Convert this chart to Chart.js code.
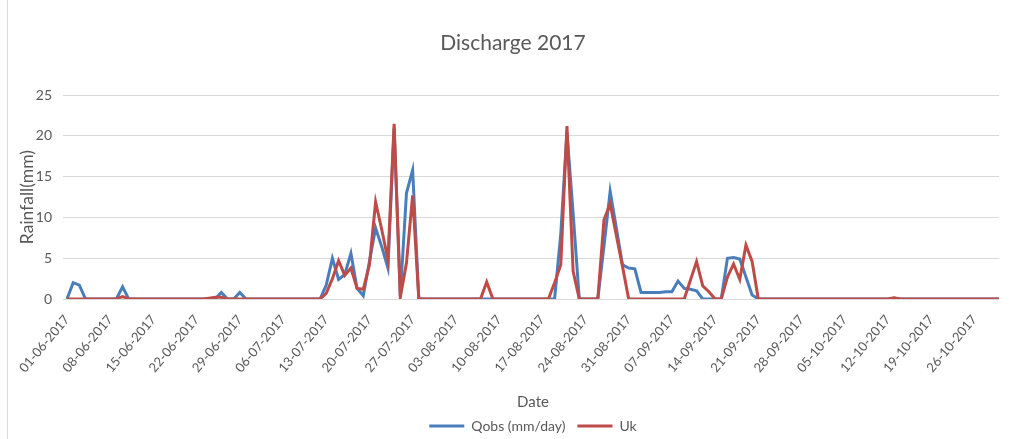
<!DOCTYPE html>
<html>
<head>
<meta charset="utf-8">
<script src="https://cdn.jsdelivr.net/npm/chart.js@4.4.1/dist/chart.umd.min.js"></script>
<style>
  html, body { margin: 0; padding: 0; background: #ffffff; }
  #wrap { position: relative; width: 1009px; height: 439px; overflow: hidden; }
  #frame { position: absolute; left: 7px; top: 0; width: 1px; height: 439px; background: #d9d9d9; }
  canvas { position: absolute; left: 0; top: 0; }
</style>
</head>
<body>
<div id="wrap">
  <div id="frame"></div>
  <canvas id="chart" width="1009" height="439"></canvas>
</div>
<script>
// Daily observed discharge (mm/day), one row per week starting 01-06-2017
const qobs = [
  0, 2.0, 1.7, 0, 0, 0, 0,
  0, 0, 1.5, 0, 0, 0, 0,
  0, 0, 0, 0, 0, 0, 0,
  0, 0, 0, 0, 0.8, 0, 0,
  0.8, 0, 0, 0, 0, 0, 0,
  0, 0, 0, 0, 0, 0, 0,
  1.7, 5.0, 2.4, 3.0, 5.6, 1.3, 0.4,
  4.6, 8.7, 6.4, 3.8, 21.0, 0.4, 13.0,
  15.8, 0, 0, 0, 0, 0, 0,
  0, 0, 0, 0, 0, 0, 0,
  0, 0, 0, 0, 0, 0, 0,
  0, 0, 0, 8.0, 20.5, 10.5, 0,
  0, 0, 0, 6.5, 13.2, 8.7, 4.2,
  3.8, 3.7, 0.8, 0.8, 0.8, 0.8, 0.9,
  0.9, 2.2, 1.3, 1.2, 1.0, 0, 0,
  0, 0, 5.0, 5.1, 4.9, 2.7, 0.5,
  0, 0, 0, 0, 0, 0, 0,
  0, 0, 0, 0, 0, 0, 0,
  0, 0, 0, 0, 0, 0, 0,
  0, 0.1, 0, 0, 0, 0, 0,
  0, 0, 0, 0, 0, 0, 0,
  0, 0, 0, 0, 0
];

// Daily simulated values (Uk), same days
const uk = [
  0, 0, 0, 0, 0, 0, 0,
  0, 0, 0.3, 0, 0, 0, 0,
  0, 0, 0, 0, 0, 0, 0,
  0, 0, 0.1, 0.2, 0.2, 0, 0,
  0, 0, 0, 0, 0, 0, 0,
  0, 0, 0, 0, 0, 0, 0,
  0.7, 2.5, 4.7, 2.9, 3.8, 1.3, 1.2,
  4.2, 11.9, 8.5, 4.8, 21.5, 0.2, 4.4,
  12.7, 0, 0, 0, 0, 0, 0,
  0, 0, 0, 0, 0, 2.1, 0,
  0, 0, 0, 0, 0, 0, 0,
  0, 0, 2.0, 4.2, 21.2, 3.4, 0,
  0, 0, 0, 9.7, 11.7, 7.8, 4.0,
  0, 0, 0, 0, 0, 0, 0,
  0, 0, 0, 2.3, 4.6, 1.6, 0.9,
  0, 0, 2.7, 4.3, 2.4, 6.6, 4.6,
  0, 0, 0, 0, 0, 0, 0,
  0, 0, 0, 0, 0, 0, 0,
  0, 0, 0, 0, 0, 0, 0,
  0, 0.15, 0, 0, 0, 0, 0,
  0, 0, 0, 0, 0, 0, 0,
  0, 0, 0, 0, 0
];

// Dates shown under the axis (weekly)
const tickLabels = [
  '01-06-2017', '08-06-2017', '15-06-2017', '22-06-2017', '29-06-2017',
  '06-07-2017', '13-07-2017', '20-07-2017', '27-07-2017', '03-08-2017',
  '10-08-2017', '17-08-2017', '24-08-2017', '31-08-2017', '07-09-2017',
  '14-09-2017', '21-09-2017', '28-09-2017', '05-10-2017', '12-10-2017',
  '19-10-2017', '26-10-2017'
];

const yTicks = [0, 5, 10, 15, 20, 25];

// One category per day, formatted dd-mm-yyyy
function buildDays(start, n) {
  const out = [];
  const d0 = Date.parse(start + 'T00:00:00Z');
  for (let i = 0; i < n; i++) {
    const d = new Date(d0 + i * 86400000);
    const dd = String(d.getUTCDate()).padStart(2, '0');
    const mm = String(d.getUTCMonth() + 1).padStart(2, '0');
    out.push(dd + '-' + mm + '-' + d.getUTCFullYear());
  }
  return out;
}
const dates = buildDays('2017-06-01', qobs.length);

const FONT = 'Lato, "Open Sans", sans-serif';
const GREY_TEXT = '#595959';
const GRID = '#d9d9d9';

new Chart(document.getElementById('chart'), {
  type: 'line',
  data: {
    labels: dates,
    datasets: [
      {
        label: 'Qobs (mm/day)',
        data: qobs,
        borderColor: '#4a7ebb',
        backgroundColor: '#4a7ebb',
        borderWidth: 3,
        pointRadius: 0,
        tension: 0,
        order: 1
      },
      {
        label: 'Uk',
        data: uk,
        borderColor: '#be4b48',
        backgroundColor: '#be4b48',
        borderWidth: 3,
        pointRadius: 0,
        tension: 0,
        order: 0
      }
    ]
  },
  options: {
    responsive: false,
    animation: false,
    devicePixelRatio: 1,
    layout: { padding: { left: 27, right: 10, top: 0, bottom: -4 } },
    plugins: {
      title: {
        display: true,
        text: 'Discharge 2017',
        color: GREY_TEXT,
        font: { family: FONT, size: 21, weight: 'normal' },
        padding: { top: 31, bottom: 39 }
      },
      legend: {
        position: 'bottom',
        fullSize: false,
        labels: {
          color: GREY_TEXT,
          font: { family: FONT, size: 14 },
          usePointStyle: true,
          pointStyle: 'line',
          pointStyleWidth: 35,
          padding: 12,
          sort: (a, b) => a.datasetIndex - b.datasetIndex
        }
      },
      tooltip: { enabled: false }
    },
    scales: {
      x: {
        type: 'category',
        offset: false,
        grid: { display: false },
        border: { display: false },
        ticks: {
          autoSkip: false,
          maxRotation: 50,
          minRotation: 50,
          color: GREY_TEXT,
          font: { family: FONT, size: 13 },
          padding: 5,
          callback: function (value) {
            const lab = this.getLabelForValue(value);
            return tickLabels.includes(lab) ? lab : '';
          }
        },
        title: {
          display: true,
          text: 'Date',
          color: GREY_TEXT,
          font: { family: FONT, size: 15 },
          padding: { top: -4, bottom: -4 }
        },
        afterFit: (scale) => {
          scale.height = 108;
          scale.paddingRight = 0;
        }
      },
      y: {
        min: 0,
        max: 25,
        afterBuildTicks: (scale) => { scale.ticks = yTicks.map(v => ({ value: v })); },
        grid: { color: GRID, lineWidth: 1, drawTicks: true, tickLength: 4, tickColor: GRID },
        border: { display: false },
        ticks: {
          color: GREY_TEXT,
          font: { family: FONT, size: 14 },
          padding: 11
        },
        title: {
          display: true,
          text: 'Rainfall(mm)',
          color: GREY_TEXT,
          font: { family: FONT, size: 17.5 },
          padding: { top: -10, bottom: 0 }
        },
        afterFit: (scale) => { scale.width = 40; }
      }
    }
  }
});
</script>
</body>
</html>
